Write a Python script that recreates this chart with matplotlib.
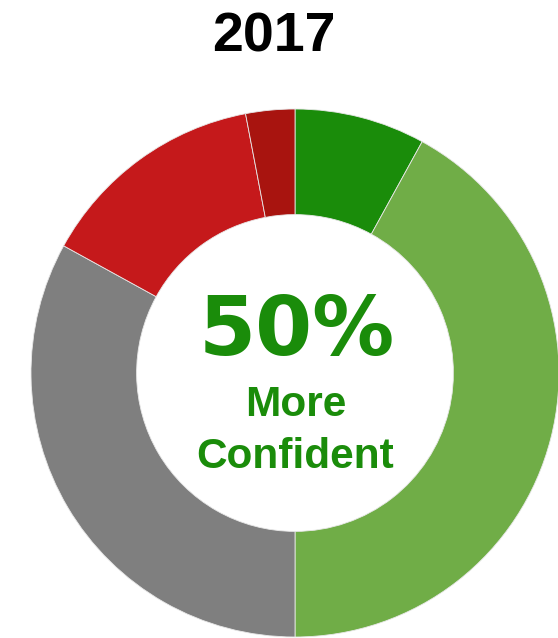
import matplotlib
matplotlib.use("Agg")
import matplotlib.pyplot as plt

# share of respondents per answer, clockwise from 12 o'clock
labels = ["Much more confident", "More confident", "No change", "Less confident", "Much less confident"]
values = [8, 42, 33, 14, 3]
colors = ["#1a8c0a", "#70ad47", "#7f7f7f", "#c5191b", "#a8140f"]

year = "2017"
headline = "50%"
caption = ["More", "Confident"]
accent = "#1a8c0a"

plt.rcParams["font.family"] = ["Liberation Sans", "DejaVu Sans"]

W, H = 558, 638
fig = plt.figure(figsize=(W / 100, H / 100), dpi=100)

# ring centred at (295, 373) px with radius 264 px
cx, cy, r = 295, 373, 264
ax = fig.add_axes([(cx - r) / W, (H - cy - r) / H, 2 * r / W, 2 * r / H])
ax.pie(values, colors=colors, startangle=90, counterclock=False, radius=1,
       wedgeprops=dict(width=0.4, edgecolor="#e8e8e8", linewidth=0.6))
ax.set_xlim(-1, 1)
ax.set_ylim(-1, 1)
ax.set_aspect("equal")
ax.axis("off")


def put(x, y, s, **kw):
    # x, y in pixels from the top-left corner, y is the baseline
    fig.text(x / W, 1 - y / H, s, ha="center", va="baseline", **kw)


put(W / 2 - 5, 52, year, fontsize=40, fontweight="bold", color="black")
put(297, 355, headline, fontsize=59, fontweight="bold", color=accent,
    family="DejaVu Sans")
put(296, 416, caption[0], fontsize=30.5, fontweight="bold", color=accent)
put(295, 468, caption[1], fontsize=30.5, fontweight="bold", color=accent)

fig.savefig("out.png", dpi=100)
